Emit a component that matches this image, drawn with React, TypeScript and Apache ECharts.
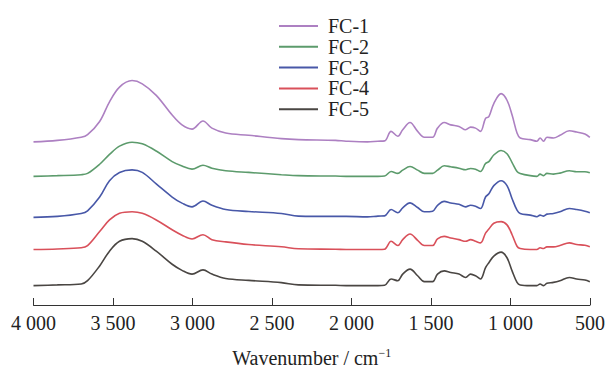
import React, { useEffect, useRef } from "react";
import * as echarts from "echarts";

const wavenumbers = [4000, 3850, 3700, 3660, 3584, 3522, 3459, 3380, 3316, 3228, 3128, 3066, 3003, 2934, 2878, 2791, 2647, 2441, 2334, 2100, 2034, 1900, 1834, 1792, 1751, 1709, 1678, 1632, 1584, 1542, 1490, 1459, 1417, 1376, 1324, 1282, 1251, 1220, 1189, 1157, 1136, 1105, 1059, 1022, 990, 959, 939, 876, 834, 814, 792, 771, 730, 689, 630, 584, 532, 501];

const seriesNames = ["FC-1", "FC-2", "FC-3", "FC-4", "FC-5"];
const seriesColors = ["#ad80c2", "#5c9b6c", "#4858a8", "#d9505a", "#4a4643"];
const offsets = [165.7, 130.7, 89, 56.4, 19.7];

const fc1 = [0, 1.5, 4.7, 7.3, 20.7, 40.7, 55.7, 62.3, 59, 47.3, 27.3, 17.3, 13, 21.3, 14, 9, 6.7, 3.3, 2.3, 1.5, 0.7, 0, 0.7, 1, 10.7, 5.7, 12.3, 19.7, 10.7, 4.7, 4.7, 14, 19.7, 17.3, 15.7, 12.3, 15, 14, 10.7, 24, 25.7, 39, 49, 42.3, 27.3, 9, 4, 2.3, 0.7, 4, 0.7, 4.7, 4, 6.7, 11.3, 10, 8, 4.7];
const fc2 = [0, 0.7, 1.7, 3, 12.3, 22.3, 30.7, 34.7, 33, 25.7, 15, 10.5, 7.3, 11.3, 8.3, 5.7, 4, 1.7, 0.7, 0.3, 0, 0, 0, 0.3, 5, 3, 6.3, 10, 6.3, 3, 3, 6.3, 10.7, 9.7, 8.3, 6.7, 8, 7.3, 5, 13, 15, 21.7, 26.3, 23, 14, 5, 3, 0.7, 0, 2.3, 0.7, 3, 2.3, 3.3, 5.7, 4.7, 4.7, 3.7];
const fc3 = [0, 1, 4, 6.7, 20.7, 37.3, 45.7, 48.3, 45.7, 34, 20.7, 14.5, 10.7, 16.7, 12.3, 8, 6, 4, 1.3, 1, 1, 0.5, 1.3, 1.5, 8, 4.7, 9.7, 14.7, 10, 5.7, 6.3, 12.3, 16.3, 14.7, 13.3, 10.7, 12.3, 11.3, 9, 20.7, 24, 32.3, 37.3, 32.3, 19, 7.3, 4, 2.3, 0.7, 2.3, 1.3, 3.3, 4, 5.7, 9, 8, 6.3, 4.7];
const fc4 = [0, 0.5, 1.7, 4, 18.3, 30, 36.7, 38.3, 36.7, 30, 20, 14.5, 10.7, 15, 10, 7.7, 5, 2.7, 0.7, 0.3, 0, 0, 0, 0.3, 8.3, 4, 10, 15.7, 9.3, 4, 4, 10.7, 13.3, 11.7, 10, 8.3, 10, 8.3, 6.7, 16.7, 20.7, 26.7, 28.3, 25, 15, 3.3, 1, 0, 0, 1.7, 1, 2.7, 2.7, 4, 6.7, 5, 4.3, 2.7];
const fc5 = [0, 0.7, 1.7, 5, 20, 35, 45, 47.7, 45, 35, 21.7, 15.5, 11.7, 16, 11.7, 7.3, 5.3, 3, 0.7, 0.3, 0, 0, 0, 0.3, 6.7, 5, 11.7, 16.7, 10, 4, 4, 11.7, 15, 13.3, 11.7, 8.3, 11.7, 10, 6.7, 18.3, 23.3, 30, 34, 28.3, 15, 3.3, 0.7, 0, 0, 1.7, 0, 2.3, 3.3, 5, 8.3, 6.7, 5.7, 4];
const intensities = [fc1, fc2, fc3, fc4, fc5];

const xTicks = { min: 500, max: 4000, interval: 500 };

const FONT = '"Liberation Serif", "Times New Roman", serif';

function fmtTick(v: number): string {
  if (v >= 1000) {
    const th = Math.floor(v / 1000);
    const rest = String(v % 1000).padStart(3, "0");
    return `${th} ${rest}`;
  }
  return String(v);
}

export default function App() {
  const ref = useRef<HTMLDivElement>(null);
  useEffect(() => {
    document.body.style.margin = "0";
    if (!ref.current) return;
    const chart = echarts.init(ref.current, null, { renderer: "svg" });
    const series = seriesNames.map((name, i) => ({
      name,
      type: "line",
      showSymbol: false,
      symbol: "none",
      smooth: 0.35,
      lineStyle: { color: seriesColors[i], width: 1.6 },
      itemStyle: { color: seriesColors[i] },
      data: wavenumbers.map((w, j) => [w, +(intensities[i][j] + offsets[i]).toFixed(2)]),
    }));
    chart.setOption({
      animation: false,
      textStyle: { fontFamily: FONT },
      grid: { left: 33.5, right: 14.5, top: 9.7, bottom: 63.3 },
      legend: {
        orient: "vertical",
        left: 274,
        top: 11,
        padding: 5,
        itemWidth: 39,
        itemHeight: 2,
        itemGap: 0.8,
        icon: "rect",
        data: seriesNames.map((n) => ({ name: n, icon: "rect" })),
        textStyle: { fontFamily: FONT, fontSize: 20, lineHeight: 20, color: "#222", padding: [0, 0, 0, 5] },
      },
      xAxis: {
        type: "value",
        inverse: true,
        min: xTicks.min,
        max: xTicks.max,
        interval: xTicks.interval,
        splitLine: { show: false },
        axisLine: { show: true, lineStyle: { color: "#333", width: 1 } },
        axisTick: { show: true, inside: true, length: 7, lineStyle: { color: "#333", width: 1 } },
        axisLabel: {
          formatter: (v: number) => fmtTick(v),
          fontFamily: FONT,
          fontSize: 20,
          color: "#222",
          margin: 8,
          showMinLabel: true,
          showMaxLabel: true,
        },
        name: "{m|Wavenumber / cm}{s|−1}",
        nameLocation: "middle",
        nameGap: 42,
        nameTextStyle: {
          rich: {
            m: { fontFamily: FONT, fontSize: 20, lineHeight: 22, color: "#222" },
            s: { fontFamily: FONT, fontSize: 12, lineHeight: 22, color: "#222", verticalAlign: "top" },
          },
        },
      },
      yAxis: {
        type: "value",
        min: 0,
        max: 300,
        show: false,
        splitLine: { show: false },
      },
      series,
    });
    return () => chart.dispose();
  }, []);
  return (
    <div
      ref={ref}
      style={{ position: "fixed", left: 0, top: 0, width: 608, height: 373, background: "#fff" }}
    />
  );
}
